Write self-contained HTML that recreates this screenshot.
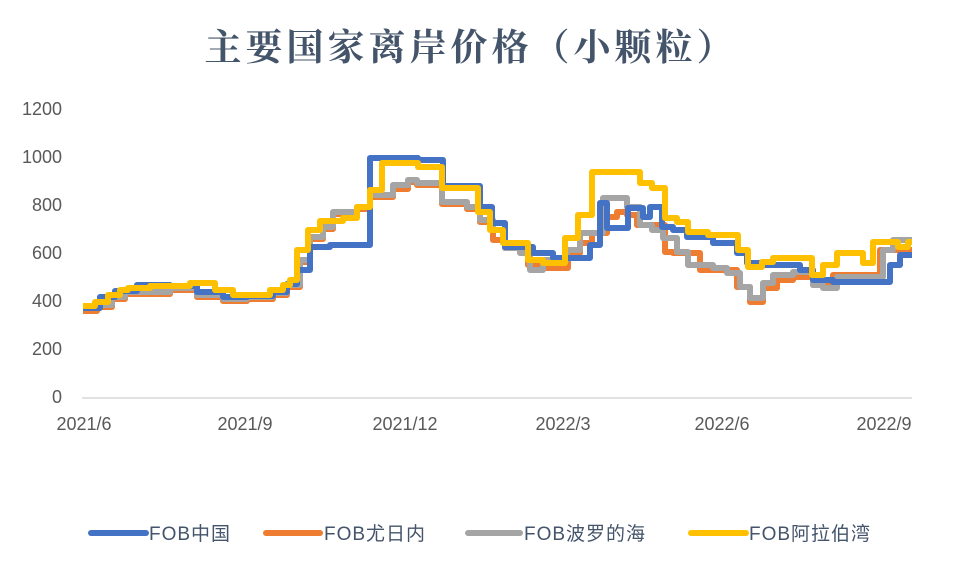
<!DOCTYPE html>
<html><head><meta charset="utf-8"><style>
html,body{margin:0;padding:0;background:#fff;}
body{width:961px;height:569px;overflow:hidden;position:relative;}
</style></head><body>
<svg width="961" height="569" xmlns="http://www.w3.org/2000/svg" style="position:absolute;left:0;top:0">
<text x="471" y="60" text-anchor="middle" font-family="'Noto Serif CJK SC','Liberation Serif',serif" font-weight="bold" font-size="37" letter-spacing="4" fill="#44546A">主要国家离岸价格（小颗粒）</text>
<g font-family="'Liberation Sans',sans-serif" font-size="18" fill="#595959" text-anchor="end">
<text x="62" y="115">1200</text>
<text x="62" y="163">1000</text>
<text x="62" y="211">800</text>
<text x="62" y="259">600</text>
<text x="62" y="307">400</text>
<text x="62" y="355">200</text>
<text x="62" y="403">0</text>
</g>
<line x1="82" y1="398" x2="912" y2="398" stroke="#d9d9d9" stroke-width="1.5"/>
<g font-family="'Liberation Sans',sans-serif" font-size="18" fill="#595959" text-anchor="middle">
<text x="84" y="430">2021/6</text>
<text x="245" y="430">2021/9</text>
<text x="405" y="430">2021/12</text>
<text x="563" y="430">2022/3</text>
<text x="722" y="430">2022/6</text>
<text x="884" y="430">2022/9</text>
</g>
<g fill="none" stroke-width="6" stroke-linejoin="round">
<path stroke="#EE7D31" d="M83,311 H97 V307 H112 V299 H125 V294 H170 V290 H197 V297 H223 V301 H247 V299 H273 V295 H287 V287 H300 V262 H310 V239 H323 V229 H333 V214 H357 V209 H370 V197 H393 V189 H408 V182 H417 V185 H442 V204 H467 V209 H480 V222 H493 V240 H505 V248 H528 V265 H543 V268 H568 V253 H580 V243 H592 V233 H607 V217 H617 V212 H627 V215 H637 V225 H665 V252 H673 V253 H700 V270 H737 V287 H750 V302 H763 V288 H777 V280 H793 V277 H813 V285 H833 V275 H880 V250 H912"/>
<path stroke="#A5A5A5" d="M83,308 H97 V305 H112 V297 H125 V292 H170 V288 H197 V295 H223 V299 H247 V297 H273 V293 H287 V285 H300 V260 H310 V237 H323 V227 H333 V212 H357 V207 H370 V195 H393 V185 H408 V180 H417 V183 H442 V202 H467 V207 H480 V220 H493 V230 H505 V248 H520 V253 H530 V270 H543 V260 H567 V250 H580 V233 H603 V198 H627 V207 H640 V225 H652 V230 H663 V238 H677 V252 H688 V265 H713 V268 H727 V273 H740 V287 H750 V298 H763 V283 H773 V275 H793 V272 H813 V285 H823 V288 H837 V277 H883 V250 H893 V240 H912"/>
<path stroke="#4472C4" d="M83,308 H100 V297 H115 V291 H137 V285 H170 V286 H197 V292 H223 V297 H247 V296 H273 V292 H287 V284 H297 V270 H310 V247 H330 V245 H370 V158 H418 V160 H443 V186 H480 V207 H492 V223 H505 V247 H533 V253 H553 V258 H590 V245 H600 V203 H607 V228 H628 V208 H643 V217 H650 V207 H662 V227 H673 V230 H687 V237 H713 V243 H737 V253 H747 V263 H763 V265 H800 V270 H813 V280 H833 V282 H890 V265 H900 V255 H912"/>
<path stroke="#FFC000" d="M83,306 H95 V302 H108 V295 H120 V290 H128 V288 H150 V286 H190 V283 H215 V290 H233 V295 H270 V290 H283 V285 H290 V280 H297 V250 H308 V230 H320 V221 H343 V218 H357 V207 H370 V190 H382 V163 H418 V167 H442 V188 H478 V212 H490 V230 H503 V243 H528 V260 H543 V263 H565 V238 H578 V215 H592 V172 H640 V183 H652 V188 H665 V218 H677 V222 H688 V232 H708 V235 H738 V250 H748 V267 H762 V262 H773 V258 H812 V275 H823 V265 H837 V253 H863 V263 H873 V242 H898 V247 H908 V242 H912"/>
</g>
<g stroke-width="6" stroke-linecap="round">
<line x1="91" y1="533" x2="146" y2="533" stroke="#4472C4"/>
<line x1="266" y1="533" x2="320" y2="533" stroke="#EE7D31"/>
<line x1="468" y1="533" x2="520" y2="533" stroke="#A5A5A5"/>
<line x1="691" y1="533" x2="746" y2="533" stroke="#FFC000"/>
</g>
<g font-family="'Liberation Sans','Noto Sans CJK SC',sans-serif" font-size="19" fill="#44546A" letter-spacing="1">
<text x="149" y="540">FOB中国</text>
<text x="324" y="540">FOB尤日内</text>
<text x="524" y="540">FOB波罗的海</text>
<text x="749" y="540">FOB阿拉伯湾</text>
</g>
</svg>
</body></html>
